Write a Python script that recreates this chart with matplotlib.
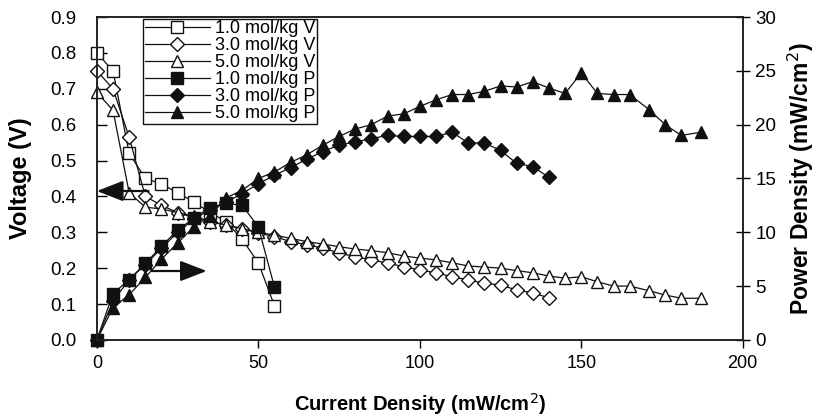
import matplotlib
matplotlib.use('Agg')
import matplotlib.pyplot as plt

plt.rcParams['font.family'] = ['Liberation Sans', 'DejaVu Sans']

# current density values (x) for each concentration
x_1m = [0, 5, 10, 15, 20, 25, 30, 35, 40, 45, 50, 55]
x_3m = [0, 5, 10, 15, 20, 25, 30, 35, 40, 45, 50, 55, 60, 65, 70, 75, 80, 85,
        90, 95, 100, 105, 110, 115, 120, 125, 130, 135, 140]
x_5m = [0, 5, 10, 15, 20, 25, 30, 35, 40, 45, 50, 55, 60, 65, 70, 75, 80, 85,
        90, 95, 100, 105, 110, 115, 120, 125, 130, 135, 140, 145, 150, 155,
        160, 165, 171, 176, 181, 187]

# voltage (V)
v_1m = [0.80, 0.75, 0.52, 0.45, 0.435, 0.41, 0.385, 0.355, 0.33, 0.28, 0.215, 0.095]
v_3m = [0.75, 0.70, 0.565, 0.40, 0.375, 0.355, 0.34, 0.33, 0.32, 0.31, 0.298,
        0.288, 0.274, 0.265, 0.256, 0.242, 0.232, 0.223, 0.214, 0.204, 0.195,
        0.187, 0.176, 0.167, 0.158, 0.153, 0.139, 0.131, 0.117]
v_5m = [0.69, 0.64, 0.41, 0.37, 0.365, 0.355, 0.345, 0.33, 0.32, 0.31, 0.30,
        0.292, 0.283, 0.274, 0.267, 0.26, 0.253, 0.249, 0.243, 0.234, 0.228,
        0.223, 0.215, 0.206, 0.203, 0.20, 0.193, 0.187, 0.178, 0.172, 0.176,
        0.162, 0.15, 0.15, 0.137, 0.125, 0.116, 0.116]

# power density (mW/cm2)
p_1m = [0, 4.3, 5.6, 7.1, 8.7, 10.2, 11.3, 12.3, 12.7, 12.5, 10.5, 4.9]
p_3m = [0, 3.6, 5.6, 7.0, 8.5, 10.0, 11.2, 12.1, 12.8, 13.6, 14.5, 15.3, 16.0,
        16.8, 17.5, 18.1, 18.4, 18.7, 19.0, 18.9, 18.9, 18.9, 19.3, 18.3, 18.3,
        17.6, 16.4, 16.1, 15.1]
p_5m = [0, 3.0, 4.2, 5.8, 7.5, 9.0, 10.5, 11.5, 13.2, 13.9, 15.0, 15.6, 16.5,
        17.2, 18.1, 18.9, 19.6, 20.0, 20.8, 21.0, 21.7, 22.3, 22.8, 22.8, 23.1,
        23.6, 23.5, 24.0, 23.4, 22.9, 24.8, 22.9, 22.8, 22.8, 21.4, 20.0, 19.0,
        19.3]

fig = plt.figure(figsize=(8.28, 4.16), dpi=100)
ax = fig.add_axes([0.117, 0.183, 0.78, 0.776])
ax2 = ax.twinx()

k = '#111111'
common = dict(color=k, lw=0.9, markeredgewidth=1.0, clip_on=False)
h1, = ax.plot(x_1m, v_1m, marker='s', ms=8.5, mfc='white', mec=k, label='1.0 mol/kg V', **common)
h2, = ax.plot(x_3m, v_3m, marker='D', ms=7, mfc='white', mec=k, label='3.0 mol/kg V', **common)
h3, = ax.plot(x_5m, v_5m, marker='^', ms=9, mfc='white', mec=k, label='5.0 mol/kg V', **common)
h4, = ax2.plot(x_1m, p_1m, marker='s', ms=8.5, mfc=k, mec=k, label='1.0 mol/kg P', **common)
h5, = ax2.plot(x_3m, p_3m, marker='D', ms=7, mfc=k, mec=k, label='3.0 mol/kg P', **common)
h6, = ax2.plot(x_5m, p_5m, marker='^', ms=9, mfc=k, mec=k, label='5.0 mol/kg P', **common)

ax.set_xlim(0, 200)
ax.set_ylim(0, 0.9)
ax2.set_ylim(0, 30)
ax.set_xticks([0, 50, 100, 150, 200])
ax.set_yticks([i / 10 for i in range(10)])
ax.set_yticklabels(['%.1f' % (i / 10) for i in range(10)])
ax2.set_yticks([0, 5, 10, 15, 20, 25, 30])

ax.tick_params(axis='y', direction='in', length=7, labelsize=13.5, width=1, pad=15)
ax.tick_params(axis='x', direction='out', length=6, width=1, pad=5, labelsize=13)
ax2.tick_params(axis='y', direction='inout', length=10, labelsize=13.5, width=1, pad=4)

for a in (ax, ax2):
    for s in a.spines.values():
        s.set_linewidth(1.2)
        s.set_color('#222222')

ax.set_ylabel('Voltage (V)', fontsize=17, fontweight='bold', labelpad=13)
ax2.set_ylabel('Power Density (mW/cm$^2$)', fontsize=16.5, fontweight='bold', labelpad=7)
ax.set_xlabel('Current Density (mW/cm$^2$)', fontsize=14.5, fontweight='bold', labelpad=14)

# arrows pointing to the axes each set belongs to
arrow = dict(arrowstyle='-|>,head_length=0.9,head_width=0.35', color=k, lw=1.6,
             mutation_scale=18, shrinkA=0, shrinkB=0)
ax.annotate('', xy=(0, 0.415), xytext=(16, 0.415), arrowprops=arrow, annotation_clip=False)
ax2.annotate('', xy=(34, 6.4), xytext=(17, 6.4), arrowprops=arrow)

leg = ax2.legend(handles=[h1, h2, h3, h4, h5, h6], loc='upper left',
                 bbox_to_anchor=(0.071, 0.995), fontsize=13, frameon=True,
                 fancybox=False, edgecolor='#111111', framealpha=1,
                 labelspacing=0.0, handlelength=3.6, handletextpad=0.3,
                 borderpad=0.1, borderaxespad=0)
leg.get_frame().set_linewidth(1.0)

plt.savefig('out.png', dpi=100)
